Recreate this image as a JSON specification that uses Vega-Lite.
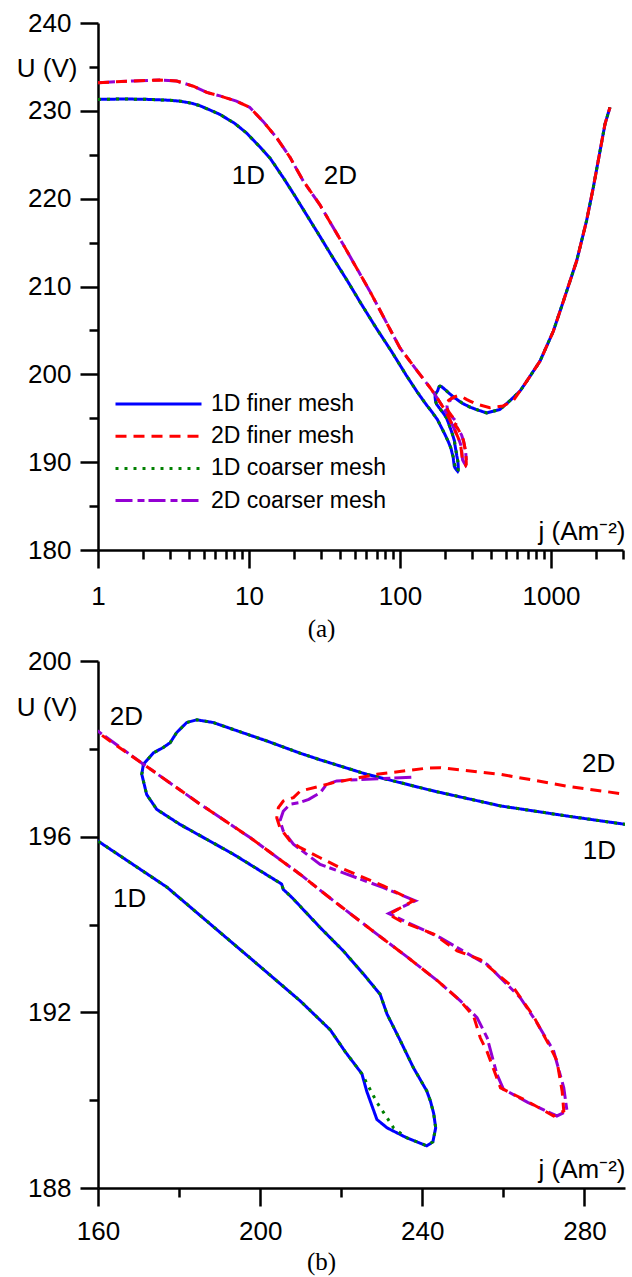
{
  "$schema": "https://vega.github.io/schema/vega-lite/v6.json",
  "padding": {"left": 16, "top": 10, "right": 5, "bottom": 2},
  "bounds": "flush",
  "spacing": 111,
  "config": {
    "view": {"stroke": null},
    "font": "Liberation Sans",
    "axis": {"domainColor": "black", "domainWidth": 2.5, "tickColor": "black", "tickWidth": 2.5, "labelColor": "black", "labelFont": "Liberation Sans", "labelFontSize": 26, "titleFont": "Liberation Sans", "titleFontSize": 26, "titleFontWeight": "normal", "titleColor": "black", "grid": false, "labelFlush": false, "labelOverlap": false},
    "text": {"font": "Liberation Sans", "fontSize": 26, "color": "black"}
  },
  "resolve": {"scale": {"color": "independent", "strokeDash": "independent"}},
  "datasets": {
    "curves": [
      {"s":"1D finer mesh","i":0,"j":1,"U":231.3},{"s":"1D finer mesh","i":1,"j":1.5,"U":231.35},{"s":"1D finer mesh","i":2,"j":2.2,"U":231.3},{"s":"1D finer mesh","i":3,"j":3,"U":231.2},{"s":"1D finer mesh","i":4,"j":3.5,"U":231.1},{"s":"1D finer mesh","i":5,"j":4.2,"U":230.85},{"s":"1D finer mesh","i":6,"j":4.7,"U":230.6},{"s":"1D finer mesh","i":7,"j":5.5,"U":230.1},{"s":"1D finer mesh","i":8,"j":6.4,"U":229.6},{"s":"1D finer mesh","i":9,"j":8,"U":228.6},{"s":"1D finer mesh","i":10,"j":9.6,"U":227.5},{"s":"1D finer mesh","i":11,"j":11.8,"U":225.9},{"s":"1D finer mesh","i":12,"j":13.8,"U":224.6},{"s":"1D finer mesh","i":13,"j":17,"U":222.3},{"s":"1D finer mesh","i":14,"j":20,"U":220.4},{"s":"1D finer mesh","i":15,"j":25,"U":217.7},{"s":"1D finer mesh","i":16,"j":30,"U":215.5},{"s":"1D finer mesh","i":17,"j":35,"U":213.6},{"s":"1D finer mesh","i":18,"j":45,"U":210.6},{"s":"1D finer mesh","i":19,"j":55,"U":208.1},{"s":"1D finer mesh","i":20,"j":70,"U":205.2},{"s":"1D finer mesh","i":21,"j":88,"U":202.6},{"s":"1D finer mesh","i":22,"j":110,"U":199.9},{"s":"1D finer mesh","i":23,"j":130,"U":198.0},{"s":"1D finer mesh","i":24,"j":150,"U":196.5},{"s":"1D finer mesh","i":25,"j":160,"U":195.9},{"s":"1D finer mesh","i":26,"j":177,"U":194.85},{"s":"1D finer mesh","i":27,"j":198,"U":193.2},{"s":"1D finer mesh","i":28,"j":210,"U":192.25},{"s":"1D finer mesh","i":29,"j":217.3,"U":191.6},{"s":"1D finer mesh","i":30,"j":221,"U":191.1},{"s":"1D finer mesh","i":31,"j":225.1,"U":190.6},{"s":"1D finer mesh","i":32,"j":226.3,"U":190.2},{"s":"1D finer mesh","i":33,"j":228.8,"U":189.56},{"s":"1D finer mesh","i":34,"j":231.3,"U":189.37},{"s":"1D finer mesh","i":35,"j":236,"U":189.15},{"s":"1D finer mesh","i":36,"j":241.1,"U":188.96},{"s":"1D finer mesh","i":37,"j":242.6,"U":189.05},{"s":"1D finer mesh","i":38,"j":243.3,"U":189.37},{"s":"1D finer mesh","i":39,"j":242.8,"U":189.7},{"s":"1D finer mesh","i":40,"j":242,"U":189.98},{"s":"1D finer mesh","i":41,"j":241.1,"U":190.21},{"s":"1D finer mesh","i":42,"j":237.8,"U":190.74},{"s":"1D finer mesh","i":43,"j":234.6,"U":191.35},{"s":"1D finer mesh","i":44,"j":231.3,"U":191.96},{"s":"1D finer mesh","i":45,"j":229.6,"U":192.41},{"s":"1D finer mesh","i":46,"j":225.5,"U":192.87},{"s":"1D finer mesh","i":47,"j":220.5,"U":193.4},{"s":"1D finer mesh","i":48,"j":214.8,"U":193.93},{"s":"1D finer mesh","i":49,"j":208,"U":194.6},{"s":"1D finer mesh","i":50,"j":205.7,"U":194.8},{"s":"1D finer mesh","i":51,"j":205.3,"U":194.92},{"s":"1D finer mesh","i":52,"j":204.1,"U":194.99},{"s":"1D finer mesh","i":53,"j":193.4,"U":195.6},{"s":"1D finer mesh","i":54,"j":180.2,"U":196.28},{"s":"1D finer mesh","i":55,"j":174.5,"U":196.62},{"s":"1D finer mesh","i":56,"j":172,"U":196.96},{"s":"1D finer mesh","i":57,"j":170.8,"U":197.42},{"s":"1D finer mesh","i":58,"j":171.2,"U":197.65},{"s":"1D finer mesh","i":59,"j":173.7,"U":197.91},{"s":"1D finer mesh","i":60,"j":176.1,"U":198.03},{"s":"1D finer mesh","i":61,"j":177.8,"U":198.14},{"s":"1D finer mesh","i":62,"j":179.4,"U":198.37},{"s":"1D finer mesh","i":63,"j":181.9,"U":198.6},{"s":"1D finer mesh","i":64,"j":184.4,"U":198.66},{"s":"1D finer mesh","i":65,"j":188.4,"U":198.6},{"s":"1D finer mesh","i":66,"j":193.4,"U":198.44},{"s":"1D finer mesh","i":67,"j":201.6,"U":198.18},{"s":"1D finer mesh","i":68,"j":209.9,"U":197.9},{"s":"1D finer mesh","i":69,"j":214.8,"U":197.75},{"s":"1D finer mesh","i":70,"j":226.3,"U":197.42},{"s":"1D finer mesh","i":71,"j":242.8,"U":197.04},{"s":"1D finer mesh","i":72,"j":259.3,"U":196.7},{"s":"1D finer mesh","i":73,"j":275.7,"U":196.47},{"s":"1D finer mesh","i":74,"j":290.1,"U":196.28},{"s":"1D finer mesh","i":75,"j":320,"U":196.0},{"s":"1D finer mesh","i":76,"j":375,"U":195.6},{"s":"1D finer mesh","i":77,"j":459,"U":196.0},{"s":"1D finer mesh","i":78,"j":535,"U":197.0},{"s":"1D finer mesh","i":79,"j":624,"U":198.1},{"s":"1D finer mesh","i":80,"j":690,"U":199.2},{"s":"1D finer mesh","i":81,"j":846,"U":201.5},{"s":"1D finer mesh","i":82,"j":1036,"U":204.9},{"s":"1D finer mesh","i":83,"j":1207,"U":208.3},{"s":"1D finer mesh","i":84,"j":1479,"U":212.9},{"s":"1D finer mesh","i":85,"j":1722,"U":217.5},{"s":"1D finer mesh","i":86,"j":1906,"U":221.25},{"s":"1D finer mesh","i":87,"j":2112,"U":225.4},{"s":"1D finer mesh","i":88,"j":2280,"U":228.5},{"s":"1D finer mesh","i":89,"j":2459,"U":230.4},

      {"s":"1D coarser mesh","i":0,"j":1,"U":231.3},{"s":"1D coarser mesh","i":1,"j":1.5,"U":231.35},{"s":"1D coarser mesh","i":2,"j":2.2,"U":231.3},{"s":"1D coarser mesh","i":3,"j":3,"U":231.2},{"s":"1D coarser mesh","i":4,"j":3.5,"U":231.1},{"s":"1D coarser mesh","i":5,"j":4.2,"U":230.85},{"s":"1D coarser mesh","i":6,"j":4.7,"U":230.6},{"s":"1D coarser mesh","i":7,"j":5.5,"U":230.1},{"s":"1D coarser mesh","i":8,"j":6.4,"U":229.6},{"s":"1D coarser mesh","i":9,"j":8,"U":228.6},{"s":"1D coarser mesh","i":10,"j":9.6,"U":227.5},{"s":"1D coarser mesh","i":11,"j":11.8,"U":225.9},{"s":"1D coarser mesh","i":12,"j":13.8,"U":224.6},{"s":"1D coarser mesh","i":13,"j":17,"U":222.3},{"s":"1D coarser mesh","i":14,"j":20,"U":220.4},{"s":"1D coarser mesh","i":15,"j":25,"U":217.7},{"s":"1D coarser mesh","i":16,"j":30,"U":215.5},{"s":"1D coarser mesh","i":17,"j":35,"U":213.6},{"s":"1D coarser mesh","i":18,"j":45,"U":210.6},{"s":"1D coarser mesh","i":19,"j":55,"U":208.1},{"s":"1D coarser mesh","i":20,"j":70,"U":205.2},{"s":"1D coarser mesh","i":21,"j":88,"U":202.6},{"s":"1D coarser mesh","i":22,"j":110,"U":199.9},{"s":"1D coarser mesh","i":23,"j":130,"U":198.0},{"s":"1D coarser mesh","i":24,"j":150,"U":196.5},{"s":"1D coarser mesh","i":25,"j":160,"U":195.9},{"s":"1D coarser mesh","i":26,"j":177,"U":194.85},{"s":"1D coarser mesh","i":27,"j":198,"U":193.2},{"s":"1D coarser mesh","i":28,"j":210,"U":192.25},{"s":"1D coarser mesh","i":29,"j":217.3,"U":191.6},{"s":"1D coarser mesh","i":30,"j":221,"U":191.1},{"s":"1D coarser mesh","i":31,"j":225.1,"U":190.6},{"s":"1D coarser mesh","i":32,"j":228.8,"U":189.95},{"s":"1D coarser mesh","i":33,"j":231.3,"U":189.6},{"s":"1D coarser mesh","i":34,"j":232.9,"U":189.37},{"s":"1D coarser mesh","i":35,"j":236,"U":189.15},{"s":"1D coarser mesh","i":36,"j":241.1,"U":188.96},{"s":"1D coarser mesh","i":37,"j":242.6,"U":189.05},{"s":"1D coarser mesh","i":38,"j":243.3,"U":189.37},{"s":"1D coarser mesh","i":39,"j":242.8,"U":189.7},{"s":"1D coarser mesh","i":40,"j":242,"U":189.98},{"s":"1D coarser mesh","i":41,"j":241.1,"U":190.21},{"s":"1D coarser mesh","i":42,"j":237.8,"U":190.74},{"s":"1D coarser mesh","i":43,"j":234.6,"U":191.35},{"s":"1D coarser mesh","i":44,"j":231.3,"U":191.96},{"s":"1D coarser mesh","i":45,"j":229.6,"U":192.41},{"s":"1D coarser mesh","i":46,"j":225.5,"U":192.87},{"s":"1D coarser mesh","i":47,"j":220.5,"U":193.4},{"s":"1D coarser mesh","i":48,"j":214.8,"U":193.93},{"s":"1D coarser mesh","i":49,"j":208,"U":194.6},{"s":"1D coarser mesh","i":50,"j":205.7,"U":194.8},{"s":"1D coarser mesh","i":51,"j":205.3,"U":194.92},{"s":"1D coarser mesh","i":52,"j":204.1,"U":194.99},{"s":"1D coarser mesh","i":53,"j":193.4,"U":195.6},{"s":"1D coarser mesh","i":54,"j":180.2,"U":196.28},{"s":"1D coarser mesh","i":55,"j":174.5,"U":196.62},{"s":"1D coarser mesh","i":56,"j":172,"U":196.96},{"s":"1D coarser mesh","i":57,"j":170.8,"U":197.42},{"s":"1D coarser mesh","i":58,"j":171.2,"U":197.65},{"s":"1D coarser mesh","i":59,"j":173.7,"U":197.91},{"s":"1D coarser mesh","i":60,"j":176.1,"U":198.03},{"s":"1D coarser mesh","i":61,"j":177.8,"U":198.14},{"s":"1D coarser mesh","i":62,"j":179.4,"U":198.37},{"s":"1D coarser mesh","i":63,"j":181.9,"U":198.6},{"s":"1D coarser mesh","i":64,"j":184.4,"U":198.66},{"s":"1D coarser mesh","i":65,"j":188.4,"U":198.6},{"s":"1D coarser mesh","i":66,"j":193.4,"U":198.44},{"s":"1D coarser mesh","i":67,"j":201.6,"U":198.18},{"s":"1D coarser mesh","i":68,"j":209.9,"U":197.9},{"s":"1D coarser mesh","i":69,"j":214.8,"U":197.75},{"s":"1D coarser mesh","i":70,"j":226.3,"U":197.42},{"s":"1D coarser mesh","i":71,"j":242.8,"U":197.04},{"s":"1D coarser mesh","i":72,"j":259.3,"U":196.7},{"s":"1D coarser mesh","i":73,"j":275.7,"U":196.47},{"s":"1D coarser mesh","i":74,"j":290.1,"U":196.28},{"s":"1D coarser mesh","i":75,"j":320,"U":196.0},{"s":"1D coarser mesh","i":76,"j":375,"U":195.6},{"s":"1D coarser mesh","i":77,"j":459,"U":196.0},{"s":"1D coarser mesh","i":78,"j":535,"U":197.0},{"s":"1D coarser mesh","i":79,"j":624,"U":198.1},{"s":"1D coarser mesh","i":80,"j":690,"U":199.2},{"s":"1D coarser mesh","i":81,"j":846,"U":201.5},{"s":"1D coarser mesh","i":82,"j":1036,"U":204.9},{"s":"1D coarser mesh","i":83,"j":1207,"U":208.3},{"s":"1D coarser mesh","i":84,"j":1479,"U":212.9},{"s":"1D coarser mesh","i":85,"j":1722,"U":217.5},{"s":"1D coarser mesh","i":86,"j":1906,"U":221.25},{"s":"1D coarser mesh","i":87,"j":2112,"U":225.4},{"s":"1D coarser mesh","i":88,"j":2280,"U":228.5},{"s":"1D coarser mesh","i":89,"j":2459,"U":230.4},

      {"s":"2D finer mesh","i":0,"j":1,"U":233.2},{"s":"2D finer mesh","i":1,"j":1.7,"U":233.4},{"s":"2D finer mesh","i":2,"j":2.57,"U":233.5},{"s":"2D finer mesh","i":3,"j":3.32,"U":233.4},{"s":"2D finer mesh","i":4,"j":4.28,"U":232.8},{"s":"2D finer mesh","i":5,"j":5.25,"U":232.1},{"s":"2D finer mesh","i":6,"j":6.42,"U":231.7},{"s":"2D finer mesh","i":7,"j":8.26,"U":231.1},{"s":"2D finer mesh","i":8,"j":10.1,"U":230.4},{"s":"2D finer mesh","i":9,"j":12.4,"U":228.8},{"s":"2D finer mesh","i":10,"j":15.3,"U":226.9},{"s":"2D finer mesh","i":11,"j":18.7,"U":224.7},{"s":"2D finer mesh","i":12,"j":22.9,"U":222.0},{"s":"2D finer mesh","i":13,"j":29.5,"U":219.3},{"s":"2D finer mesh","i":14,"j":42,"U":214.8},{"s":"2D finer mesh","i":15,"j":63,"U":209.5},{"s":"2D finer mesh","i":16,"j":100,"U":203.0},{"s":"2D finer mesh","i":17,"j":130,"U":200.4},{"s":"2D finer mesh","i":18,"j":150,"U":199.0},{"s":"2D finer mesh","i":19,"j":160,"U":198.37},{"s":"2D finer mesh","i":20,"j":171.2,"U":197.65},{"s":"2D finer mesh","i":21,"j":185.2,"U":196.74},{"s":"2D finer mesh","i":22,"j":197.5,"U":195.98},{"s":"2D finer mesh","i":23,"j":209.9,"U":195.14},{"s":"2D finer mesh","i":24,"j":218.1,"U":194.54},{"s":"2D finer mesh","i":25,"j":228.8,"U":193.78},{"s":"2D finer mesh","i":26,"j":236,"U":193.28},{"s":"2D finer mesh","i":27,"j":244,"U":192.7},{"s":"2D finer mesh","i":28,"j":249.4,"U":192.26},{"s":"2D finer mesh","i":29,"j":252.7,"U":191.9},{"s":"2D finer mesh","i":30,"j":254.3,"U":191.42},{"s":"2D finer mesh","i":31,"j":256,"U":191.1},{"s":"2D finer mesh","i":32,"j":259.3,"U":190.28},{"s":"2D finer mesh","i":33,"j":265.8,"U":189.98},{"s":"2D finer mesh","i":34,"j":272.4,"U":189.64},{"s":"2D finer mesh","i":35,"j":274.9,"U":189.75},{"s":"2D finer mesh","i":36,"j":274.5,"U":190.2},{"s":"2D finer mesh","i":37,"j":273.2,"U":190.9},{"s":"2D finer mesh","i":38,"j":271.6,"U":191.2},{"s":"2D finer mesh","i":39,"j":267.5,"U":191.9},{"s":"2D finer mesh","i":40,"j":262.5,"U":192.56},{"s":"2D finer mesh","i":41,"j":254.3,"U":193.2},{"s":"2D finer mesh","i":42,"j":248.6,"U":193.4},{"s":"2D finer mesh","i":43,"j":242.8,"U":193.78},{"s":"2D finer mesh","i":44,"j":234.6,"U":194.08},{"s":"2D finer mesh","i":45,"j":231.7,"U":194.23},{"s":"2D finer mesh","i":46,"j":237.8,"U":194.54},{"s":"2D finer mesh","i":47,"j":230.4,"U":194.88},{"s":"2D finer mesh","i":48,"j":219.8,"U":195.29},{"s":"2D finer mesh","i":49,"j":214.8,"U":195.52},{"s":"2D finer mesh","i":50,"j":209.9,"U":195.75},{"s":"2D finer mesh","i":51,"j":207.4,"U":195.9},{"s":"2D finer mesh","i":52,"j":204.9,"U":196.2},{"s":"2D finer mesh","i":53,"j":204.1,"U":196.43},{"s":"2D finer mesh","i":54,"j":204.5,"U":196.66},{"s":"2D finer mesh","i":55,"j":205.7,"U":196.81},{"s":"2D finer mesh","i":56,"j":208.2,"U":196.89},{"s":"2D finer mesh","i":57,"j":209.9,"U":197.04},{"s":"2D finer mesh","i":58,"j":214.8,"U":197.15},{"s":"2D finer mesh","i":59,"j":218.1,"U":197.23},{"s":"2D finer mesh","i":60,"j":228.8,"U":197.42},{"s":"2D finer mesh","i":61,"j":241.1,"U":197.56},{"s":"2D finer mesh","i":62,"j":244.4,"U":197.57},{"s":"2D finer mesh","i":63,"j":259.3,"U":197.42},{"s":"2D finer mesh","i":64,"j":275.7,"U":197.15},{"s":"2D finer mesh","i":65,"j":290.5,"U":196.96},{"s":"2D finer mesh","i":66,"j":322,"U":196.6},{"s":"2D finer mesh","i":67,"j":394,"U":196.2},{"s":"2D finer mesh","i":68,"j":482,"U":196.4},{"s":"2D finer mesh","i":69,"j":562,"U":197.0},{"s":"2D finer mesh","i":70,"j":690,"U":199.2},{"s":"2D finer mesh","i":71,"j":846,"U":201.5},{"s":"2D finer mesh","i":72,"j":1036,"U":204.9},{"s":"2D finer mesh","i":73,"j":1207,"U":208.3},{"s":"2D finer mesh","i":74,"j":1479,"U":212.9},{"s":"2D finer mesh","i":75,"j":1722,"U":217.5},{"s":"2D finer mesh","i":76,"j":1906,"U":221.25},{"s":"2D finer mesh","i":77,"j":2112,"U":225.4},{"s":"2D finer mesh","i":78,"j":2280,"U":228.5},{"s":"2D finer mesh","i":79,"j":2459,"U":230.4},

      {"s":"2D coarser mesh","i":0,"j":1,"U":233.2},{"s":"2D coarser mesh","i":1,"j":1.7,"U":233.4},{"s":"2D coarser mesh","i":2,"j":2.57,"U":233.5},{"s":"2D coarser mesh","i":3,"j":3.32,"U":233.4},{"s":"2D coarser mesh","i":4,"j":4.28,"U":232.8},{"s":"2D coarser mesh","i":5,"j":5.25,"U":232.1},{"s":"2D coarser mesh","i":6,"j":6.42,"U":231.7},{"s":"2D coarser mesh","i":7,"j":8.26,"U":231.1},{"s":"2D coarser mesh","i":8,"j":10.1,"U":230.4},{"s":"2D coarser mesh","i":9,"j":12.4,"U":228.8},{"s":"2D coarser mesh","i":10,"j":15.3,"U":226.9},{"s":"2D coarser mesh","i":11,"j":18.7,"U":224.7},{"s":"2D coarser mesh","i":12,"j":22.9,"U":222.0},{"s":"2D coarser mesh","i":13,"j":29.5,"U":219.3},{"s":"2D coarser mesh","i":14,"j":42,"U":214.8},{"s":"2D coarser mesh","i":15,"j":63,"U":209.5},{"s":"2D coarser mesh","i":16,"j":100,"U":203.0},{"s":"2D coarser mesh","i":17,"j":130,"U":200.4},{"s":"2D coarser mesh","i":18,"j":150,"U":199.0},{"s":"2D coarser mesh","i":19,"j":160,"U":198.4},{"s":"2D coarser mesh","i":20,"j":171.2,"U":197.65},{"s":"2D coarser mesh","i":21,"j":185.2,"U":196.74},{"s":"2D coarser mesh","i":22,"j":197.5,"U":195.98},{"s":"2D coarser mesh","i":23,"j":209.9,"U":195.14},{"s":"2D coarser mesh","i":24,"j":218.1,"U":194.54},{"s":"2D coarser mesh","i":25,"j":228.8,"U":193.78},{"s":"2D coarser mesh","i":26,"j":236,"U":193.28},{"s":"2D coarser mesh","i":27,"j":244,"U":192.7},{"s":"2D coarser mesh","i":28,"j":249.4,"U":192.26},{"s":"2D coarser mesh","i":29,"j":253.5,"U":191.88},{"s":"2D coarser mesh","i":30,"j":256,"U":191.42},{"s":"2D coarser mesh","i":31,"j":258.4,"U":190.59},{"s":"2D coarser mesh","i":32,"j":260,"U":190.25},{"s":"2D coarser mesh","i":33,"j":266,"U":189.95},{"s":"2D coarser mesh","i":34,"j":273.2,"U":189.64},{"s":"2D coarser mesh","i":35,"j":275.7,"U":189.75},{"s":"2D coarser mesh","i":36,"j":274.9,"U":190.28},{"s":"2D coarser mesh","i":37,"j":272.4,"U":191.12},{"s":"2D coarser mesh","i":38,"j":268,"U":191.8},{"s":"2D coarser mesh","i":39,"j":264.2,"U":192.33},{"s":"2D coarser mesh","i":40,"j":256,"U":193.09},{"s":"2D coarser mesh","i":41,"j":254.3,"U":193.17},{"s":"2D coarser mesh","i":42,"j":244.4,"U":193.7},{"s":"2D coarser mesh","i":43,"j":234.6,"U":194.12},{"s":"2D coarser mesh","i":44,"j":231.7,"U":194.25},{"s":"2D coarser mesh","i":45,"j":238.3,"U":194.54},{"s":"2D coarser mesh","i":46,"j":230.4,"U":194.84},{"s":"2D coarser mesh","i":47,"j":214.8,"U":195.37},{"s":"2D coarser mesh","i":48,"j":208.2,"U":195.83},{"s":"2D coarser mesh","i":49,"j":205.7,"U":196.13},{"s":"2D coarser mesh","i":50,"j":204.9,"U":196.36},{"s":"2D coarser mesh","i":51,"j":205.7,"U":196.58},{"s":"2D coarser mesh","i":52,"j":207.4,"U":196.74},{"s":"2D coarser mesh","i":53,"j":209.9,"U":196.78},{"s":"2D coarser mesh","i":54,"j":212,"U":196.85},{"s":"2D coarser mesh","i":55,"j":214.8,"U":197.0},{"s":"2D coarser mesh","i":56,"j":216.4,"U":197.19},{"s":"2D coarser mesh","i":57,"j":218.9,"U":197.27},{"s":"2D coarser mesh","i":58,"j":226.3,"U":197.31},{"s":"2D coarser mesh","i":59,"j":234.6,"U":197.34},{"s":"2D coarser mesh","i":60,"j":238.3,"U":197.36}
    ]
  },
  "vconcat": [
    {
      "width": 525,
      "height": 527,
      "title": {"text": "(a)", "orient": "bottom", "anchor": "middle", "frame": "group", "dx": -39, "offset": 8, "font": "Liberation Serif", "fontSize": 25, "fontWeight": "normal", "color": "black", "baseline": "top"},
      "resolve": {"axis": {"x": "independent", "y": "independent"}},
      "layer": [
        {
          "data": {"name": "curves"},
          "encoding": {
            "x": {"field": "j", "type": "quantitative", "scale": {"type": "log", "domain": [1, 3000], "nice": false},
              "axis": {"orient": "bottom", "values": [1, 10, 100, 1000], "format": "d", "ticks": true, "tickSize": 18, "labelPadding": 15, "labelBaseline": "top", "labelAlign": "center", "title": "j (Am⁻²)", "titleX": 527, "titleY": -19, "titleAlign": "right", "titleBaseline": "middle", "titleAngle": 0}},
            "y": {"field": "U", "type": "quantitative", "scale": {"domain": [180, 240], "nice": false, "zero": false},
              "axis": {"orient": "left", "values": [180, 190, 200, 210, 220, 230, 240], "tickSize": 18, "labelPadding": 9, "title": "U (V)", "titleAngle": 0, "titleX": -21, "titleY": 45, "titleAlign": "right", "titleBaseline": "middle"}},
            "color": {"field": "s", "type": "nominal",
              "scale": {"domain": ["1D finer mesh", "2D finer mesh", "1D coarser mesh", "2D coarser mesh"], "range": ["#0000FF", "#FF0000", "#008000", "#9400D3"]},
              "legend": {"title": null, "orient": "none", "legendX": 16, "legendY": 368, "padding": 0, "symbolType": "stroke", "symbolSize": 7396, "symbolStrokeWidth": 3, "labelFont": "Liberation Sans", "labelFontSize": 23, "labelColor": "black", "labelOffset": 8, "labelLimit": 0, "clipHeight": 26, "rowPadding": 6.2}},
            "strokeDash": {"field": "s", "type": "nominal",
              "scale": {"domain": ["1D finer mesh", "2D finer mesh", "1D coarser mesh", "2D coarser mesh"], "range": [[1, 0], [11, 7], [3, 6], [17, 5, 7, 4]]},
              "legend": {"title": null, "orient": "none", "legendX": 16, "legendY": 368, "padding": 0, "symbolType": "stroke", "symbolSize": 7396, "symbolStrokeWidth": 3, "labelFont": "Liberation Sans", "labelFontSize": 23, "labelColor": "black", "labelOffset": 8, "labelLimit": 0, "clipHeight": 26, "rowPadding": 6.2}},
            "order": {"field": "i", "type": "quantitative"}
          },
          "layer": [
            {"transform": [{"filter": "datum.s == '1D finer mesh'"}], "mark": {"type": "line", "clip": true, "strokeWidth": 3}},
            {"transform": [{"filter": "datum.s == '1D coarser mesh'"}], "mark": {"type": "line", "clip": true, "strokeWidth": 3}},
            {"transform": [{"filter": "datum.s == '2D coarser mesh'"}], "mark": {"type": "line", "clip": true, "strokeWidth": 3}},
            {"transform": [{"filter": "datum.s == '2D finer mesh'"}], "mark": {"type": "line", "clip": true, "strokeWidth": 3}}
          ]
        },
        {
          "data": {"values": [{"t": "1D", "j": 9.9, "U": 222.6}, {"t": "2D", "j": 40.3, "U": 222.6}]},
          "mark": {"type": "text", "align": "center", "baseline": "middle", "fontSize": 26},
          "encoding": {
            "x": {"field": "j", "type": "quantitative", "scale": {"type": "log", "domain": [1, 3000], "nice": false},
              "axis": {"orient": "bottom", "values": [2, 3, 4, 5, 6, 7, 8, 9, 20, 30, 40, 50, 60, 70, 80, 90, 200, 300, 400, 500, 600, 700, 800, 900, 2000, 3000], "tickSize": 9, "labels": false, "domain": false, "title": null}},
            "y": {"field": "U", "type": "quantitative", "scale": {"domain": [180, 240], "nice": false, "zero": false},
              "axis": {"orient": "left", "values": [185, 195, 205, 215, 225, 235], "tickSize": 9, "labels": false, "domain": false, "title": null}},
            "text": {"field": "t"}
          }
        }
      ]
    },
    {
      "width": 527,
      "height": 527,
      "title": {"text": "(b)", "orient": "bottom", "anchor": "middle", "frame": "group", "dx": -40, "offset": 6, "font": "Liberation Serif", "fontSize": 25, "fontWeight": "normal", "color": "black", "baseline": "top"},
      "resolve": {"axis": {"x": "independent", "y": "independent"}},
      "layer": [
        {
          "data": {"name": "curves"},
          "encoding": {
            "x": {"field": "j", "type": "quantitative", "scale": {"domain": [160, 290], "nice": false, "zero": false},
              "axis": {"orient": "bottom", "values": [160, 200, 240, 280], "tickSize": 18, "labelPadding": 12, "labelBaseline": "top", "title": "j (Am⁻²)", "titleX": 527, "titleY": -19, "titleAlign": "right", "titleBaseline": "middle", "titleAngle": 0}},
            "y": {"field": "U", "type": "quantitative", "scale": {"domain": [188, 200], "nice": false, "zero": false},
              "axis": {"orient": "left", "values": [188, 192, 196, 200], "tickSize": 18, "labelPadding": 9, "title": "U (V)", "titleAngle": 0, "titleX": -21, "titleY": 46, "titleAlign": "right", "titleBaseline": "middle"}},
            "color": {"field": "s", "type": "nominal",
              "scale": {"domain": ["1D finer mesh", "2D finer mesh", "1D coarser mesh", "2D coarser mesh"], "range": ["#0000FF", "#FF0000", "#008000", "#9400D3"]},
              "legend": null},
            "strokeDash": {"field": "s", "type": "nominal",
              "scale": {"domain": ["1D finer mesh", "2D finer mesh", "1D coarser mesh", "2D coarser mesh"], "range": [[1, 0], [11, 7], [3, 6], [17, 5, 7, 4]]},
              "legend": null},
            "order": {"field": "i", "type": "quantitative"}
          },
          "layer": [
            {"transform": [{"filter": "datum.s == '1D finer mesh'"}], "mark": {"type": "line", "clip": true, "strokeWidth": 3}},
            {"transform": [{"filter": "datum.s == '1D coarser mesh'"}], "mark": {"type": "line", "clip": true, "strokeWidth": 3}},
            {"transform": [{"filter": "datum.s == '2D coarser mesh'"}], "mark": {"type": "line", "clip": true, "strokeWidth": 3}},
            {"transform": [{"filter": "datum.s == '2D finer mesh'"}], "mark": {"type": "line", "clip": true, "strokeWidth": 3}}
          ]
        },
        {
          "data": {"values": [{"t": "2D", "j": 167.0, "U": 198.73}, {"t": "1D", "j": 167.8, "U": 194.59}, {"t": "2D", "j": 283.5, "U": 197.65}, {"t": "1D", "j": 283.7, "U": 195.67}]},
          "mark": {"type": "text", "align": "center", "baseline": "middle", "fontSize": 26},
          "encoding": {
            "x": {"field": "j", "type": "quantitative", "scale": {"domain": [160, 290], "nice": false, "zero": false},
              "axis": {"orient": "bottom", "values": [180, 220, 260], "tickSize": 9, "labels": false, "domain": false, "title": null}},
            "y": {"field": "U", "type": "quantitative", "scale": {"domain": [188, 200], "nice": false, "zero": false},
              "axis": {"orient": "left", "values": [190, 194, 198], "tickSize": 9, "labels": false, "domain": false, "title": null}},
            "text": {"field": "t"}
          }
        }
      ]
    }
  ]
}
